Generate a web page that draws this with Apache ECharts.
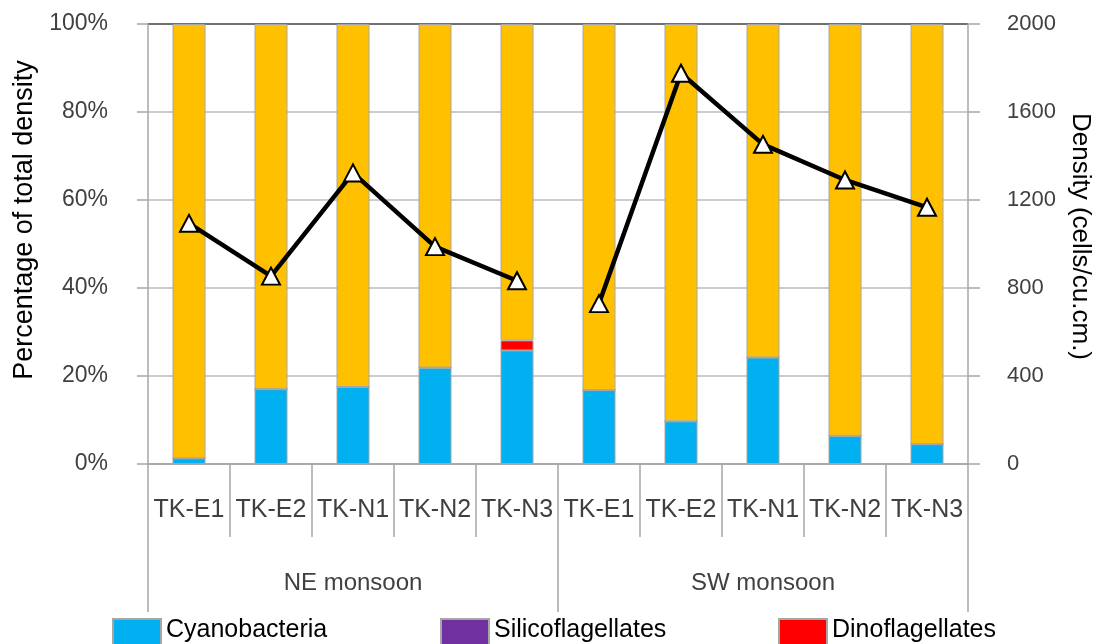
<!DOCTYPE html>
<html>
<head>
<meta charset="utf-8">
<script src="https://cdn.jsdelivr.net/npm/echarts@6/dist/echarts.min.js"></script>
<style>
  html, body { margin: 0; padding: 0; background: #fff; }
  #chart { width: 1104px; height: 644px; }
</style>
</head>
<body>
<div id="chart"></div>
<script>
// ---- data ----
const stations = ['TK-E1', 'TK-E2', 'TK-N1', 'TK-N2', 'TK-N3', 'TK-E1', 'TK-E2', 'TK-N1', 'TK-N2', 'TK-N3'];
const seasons = ['NE monsoon', 'SW monsoon'];
const cyanobacteria = [1.3, 17.0, 17.5, 21.9, 25.8, 16.8, 9.7, 24.2, 6.4, 4.5];
const silicoflagellates = [0, 0, 0, 0, 0, 0, 0, 0, 0, 0];
const dinoflagellates = [0, 0, 0, 0, 2.3, 0, 0, 0, 0, 0];
const diatoms = [98.7, 83.0, 82.5, 78.1, 71.9, 83.2, 90.3, 75.8, 93.6, 95.5];
const densityNE = [1094, 854, 1323, 988, 833];
const densitySW = [729, 1776, 1453, 1291, 1167];
const leftTicks = [0, 20, 40, 60, 80, 100];
const rightTicks = [0, 400, 800, 1200, 1600, 2000];

const FONT = '"Liberation Sans", Arial, sans-serif';
const GRAY = '#a6a6a6';
const GRID = '#bdbdbd';

const chart = echarts.init(document.getElementById('chart'), null, { renderer: 'canvas' });

function barSeries(name, data, color) {
  return {
    name: name, type: 'bar', stack: 'total', data: data,
    barWidth: 33, xAxisIndex: 0, yAxisIndex: 0,
    itemStyle: { color: color, borderColor: GRAY, borderWidth: 1 },
    emphasis: { disabled: true }
  };
}

function lineSeries(name, data) {
  return {
    name: name, type: 'line', data: data, xAxisIndex: 0, yAxisIndex: 1,
    z: 5, connectNulls: false,
    lineStyle: { color: '#000', width: 4.5 },
    itemStyle: { color: '#fff', borderColor: '#000', borderWidth: 2 },
    symbol: 'triangle', symbolSize: [18, 17], showAllSymbol: true,
    emphasis: { disabled: true }
  };
}

function legendAt(left, name) {
  return {
    left: left, top: 618, padding: 0, data: [name], itemWidth: 48, itemHeight: 28, itemGap: 0,
    icon: 'rect', selectedMode: false,
    formatter: '{t|{name}}',
    textStyle: {
      fontFamily: FONT, fontSize: 25, color: '#000',
      rich: { t: { fontFamily: FONT, fontSize: 25, color: '#000', padding: [0, 0, 5, 0] } }
    }
  };
}

const gapNE = densitySW.map(() => null);
const gapSW = densityNE.map(() => null);

const option = {
  backgroundColor: '#fff',
  animation: false,
  textStyle: { fontFamily: FONT },
  grid: { left: 148, right: 136, top: 24, bottom: 180, containLabel: false },
  legend: [
    legendAt(112, 'Cyanobacteria'),
    legendAt(440, 'Silicoflagellates'),
    legendAt(778, 'Dinoflagellates')
  ],
  xAxis: [
    {
      type: 'category', data: stations, position: 'bottom', boundaryGap: true,
      axisLine: { show: true, lineStyle: { color: GRAY, width: 1.5 } },
      axisTick: { show: true, interval: 0, length: 73, lineStyle: { color: GRAY, width: 1.5 } },
      axisLabel: { interval: 0, margin: 34, fontFamily: FONT, fontSize: 25, color: '#404040' },
      splitLine: { show: false }
    },
    {
      type: 'category', data: seasons, position: 'bottom', offset: 0, boundaryGap: true,
      axisLine: { show: true, lineStyle: { color: GRAY, width: 1.5 } },
      axisTick: { show: true, interval: 0, length: 148, lineStyle: { color: GRAY, width: 1.5 } },
      axisLabel: { interval: 0, margin: 107, fontFamily: FONT, fontSize: 24, color: '#404040' },
      splitLine: { show: false }
    }
  ],
  yAxis: [
    {
      type: 'value', min: leftTicks[0], max: leftTicks[leftTicks.length - 1], interval: 20,
      position: 'left',
      name: 'Percentage of total density', nameLocation: 'middle', nameRotate: 90, nameGap: 108,
      nameTextStyle: { fontFamily: FONT, fontSize: 27, color: '#000', padding: [0, 0, 0, 48] },
      axisLine: { show: true, lineStyle: { color: GRAY, width: 1.5 } },
      axisTick: { show: true, length: 11, inside: false, lineStyle: { color: GRAY, width: 1.5 } },
      axisLabel: { formatter: '{value}%', margin: 40, fontFamily: FONT, fontSize: 23, color: '#404040' },
      splitLine: { show: true, lineStyle: { color: [GRID, GRID, GRID, GRID, GRID, '#404040'], width: 1.5 } }
    },
    {
      type: 'value', min: rightTicks[0], max: rightTicks[rightTicks.length - 1], interval: 400,
      position: 'right',
      name: 'Density (cells/cu.cm.)', nameLocation: 'middle', nameRotate: -90, nameGap: 84,
      nameTextStyle: { fontFamily: FONT, fontSize: 26, color: '#000', padding: [0, 15, 0, 0] },
      axisLine: { show: true, lineStyle: { color: GRAY, width: 1.5 } },
      axisTick: { show: true, length: 12, inside: false, lineStyle: { color: GRAY, width: 1.5 } },
      axisLabel: { formatter: (v) => String(v), margin: 39, fontFamily: FONT, fontSize: 22, color: '#404040' },
      splitLine: { show: false }
    }
  ],
  series: [
    barSeries('Cyanobacteria', cyanobacteria, '#00B0F0'),
    barSeries('Silicoflagellates', silicoflagellates, '#7030A0'),
    barSeries('Dinoflagellates', dinoflagellates, '#FF0000'),
    barSeries('Diatoms', diatoms, '#FFC000'),
    lineSeries('Density NE', densityNE.concat(gapNE)),
    lineSeries('Density SW', gapSW.concat(densitySW))
  ]
};

chart.setOption(option);
</script>
</body>
</html>
